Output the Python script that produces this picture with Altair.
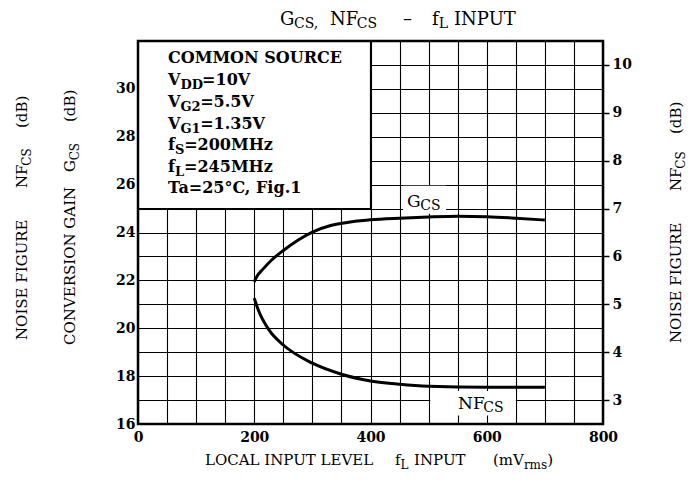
import altair as alt
import pandas as pd

# ---------------- data ----------------
gcs_x = [200, 205, 215, 230, 250, 275, 300, 330, 360, 400, 450, 500, 550, 600, 650, 700]
gcs_db = [21.94, 22.18, 22.47, 22.85, 23.25, 23.68, 24.02, 24.28, 24.42, 24.53, 24.60, 24.65,
          24.68, 24.66, 24.60, 24.52]
nf_x = [200, 207, 225, 250, 300, 350, 400, 450, 500, 600, 700]
nf_db = [5.13, 4.88, 4.47, 4.15, 3.77, 3.54, 3.40, 3.33, 3.29, 3.27, 3.27]

x_grid = list(range(0, 801, 50))
x_labels = [0, 200, 400, 600, 800]
g_grid = list(range(16, 33))
g_labels = [16, 18, 20, 22, 24, 26, 28, 30]
nf_ticks = [3, 4, 5, 6, 7, 8, 9, 10]

legend_lines = [
    [("COMMON SOURCE", 0)],
    [("V", 0), ("DD", 1), ("=10V", 0)],
    [("V", 0), ("G2", 1), ("=5.5V", 0)],
    [("V", 0), ("G1", 1), ("=1.35V", 0)],
    [("f", 0), ("S", 1), ("=200MHz", 0)],
    [("f", 0), ("L", 1), ("=245MHz", 0)],
    [("Ta=25°C, Fig.1", 0)],
]

# ---------------- layout ----------------
FONT = "DejaVu Serif"
W, H = 465, 383
OX, OY = 138, 41  # page position of plot origin

REG = {" ": .318, "A": .722, "B": .732, "C": .731, "D": .813, "E": .698, "F": .644, "G": .778,
       "H": .875, "I": .42, "L": .647, "M": 1.03, "N": .843, "O": .822, "P": .654, "R": .77,
       "S": .654, "T": .654, "U": .827, "V": .722, "a": .596, "d": .64, "f": .374, "g": .64,
       "i": .32, "m": .947, "r": .478, "s": .513, "z": .534, "(": .39, ")": .39, "=": .838,
       ",": .318, ".": .318, "°": .5, "–": .5}
BOLD = {" ": .348, "A": .776, "C": .734, "D": .834, "E": .757, "F": .705, "G": .823, "H": .949,
        "I": .469, "L": .707, "M": 1.096, "N": .938, "O": .82, "R": .822, "S": .716, "T": .707,
        "U": .879, "V": .776, "a": .676, "f": .43, "g": .70, "i": .38, "z": .58, "=": .838,
        ".": .38, ",": .38, "°": .5}


def tw(s, size, bold):
    t = BOLD if bold else REG
    out = 0
    for c in s:
        if c.isdigit():
            out += .696 if bold else .636
        else:
            out += t.get(c, .7)
    return out * size


one = pd.DataFrame({"k": [0]})


def run(x, y, parts, angle=0):
    """parts: (text, size, bold, shift) laid out one after another."""
    marks = []
    pos = 0.0
    for txt, size, bold, shift in parts:
        if angle == 0:
            px, py = x + pos, y + shift
        else:
            px, py = x + shift, y - pos
        marks.append(
            alt.Chart(one).mark_text(
                text=txt, font=FONT, fontSize=size,
                fontWeight="bold" if bold else "normal",
                align="left", baseline="alphabetic", angle=angle, color="black",
            ).encode(x=alt.value(px - OX), y=alt.value(py - OY))
        )
        pos += tw(txt, size, bold)
    return marks


texts = []
# chart title
texts += run(280, 25, [("G", 18, False, 0), ("CS,", 14, False, 3)])
texts += run(330, 25, [("NF", 18, False, 0), ("CS", 14, False, 3)])
texts += run(403, 25, [("–", 18, False, 0)])
texts += run(432, 25, [("f", 18, False, 0), ("L", 14, False, 3)])
texts += run(454, 25, [("INPUT", 18, False, 0)])
# x title
texts += run(205, 465, [("LOCAL INPUT LEVEL", 15, False, 0)])
texts += run(395, 465, [("f", 15, False, 0), ("L", 12, False, 4)])
texts += run(414, 465, [("INPUT", 15, False, 0)])
texts += run(493, 465, [("(mV", 15, False, 0), ("rms", 12, False, 4), (")", 15, False, 0)])
# left titles (rotated)
texts += run(27, 340, [("NOISE FIGURE", 15, False, 0)], angle=270)
texts += run(27, 188, [("NF", 15, False, 0), ("CS", 12, False, 4)], angle=270)
texts += run(27, 128, [("(dB)", 15, False, 0)], angle=270)
texts += run(75, 345, [("CONVERSION GAIN", 15, False, 0)], angle=270)
texts += run(75, 172, [("G", 15, False, 0), ("CS", 12, False, 4)], angle=270)
texts += run(75, 122, [("(dB)", 15, False, 0)], angle=270)
# right title
texts += run(681, 343, [("NOISE FIGURE", 15, False, 0)], angle=270)
texts += run(681, 191, [("NF", 15, False, 0), ("CS", 12, False, 4)], angle=270)
texts += run(681, 134, [("(dB)", 15, False, 0)], angle=270)
# condition box text
baselines = [63, 85, 107, 129, 150, 172, 193]
for line, b in zip(legend_lines, baselines):
    parts = [(t, 13 if sub else 16, True, 4 if sub else 0) for t, sub in line]
    texts += run(168, b, parts)
# curve labels
texts += run(407, 207, [("G", 17, False, 0), ("CS", 14, False, 3)])
texts += run(458, 409, [("NF", 17, False, 0), ("CS", 14, False, 3)])

# ---------------- chart ----------------
xscale = alt.Scale(domain=[0, 800], nice=False, zero=False)
gscale = alt.Scale(domain=[16, 32], nice=False, zero=False)
nfscale = alt.Scale(domain=[2.5, 10.5], nice=False, zero=False)

xaxis = alt.Axis(values=x_grid, labelExpr=f"indexof({x_labels}, datum.value) >= 0 ? datum.label : ''",
                 grid=True, gridColor="black", gridWidth=1.1, gridOpacity=1, ticks=False, domain=False,
                 labelPadding=6, labelFont=FONT, labelFontSize=14, labelFontWeight="bold",
                 labelColor="black", labelFlush=False, labelOverlap=False, title=None)
gaxis = alt.Axis(orient="left", values=g_grid,
                 labelExpr=f"indexof({g_labels}, datum.value) >= 0 ? datum.label : ''",
                 grid=True, gridColor="black", gridWidth=1.1, gridOpacity=1, ticks=False, domain=False,
                 labelPadding=3, labelFont=FONT, labelFontSize=14, labelFontWeight="bold",
                 labelColor="black", labelOverlap=False, labelFlush=False, title=None)
nfaxis = alt.Axis(orient="right", values=nf_ticks, grid=False, ticks=True, tickSize=6, tickWidth=1.5,
                  tickColor="black", domain=False, labelPadding=3, labelFont=FONT, labelFontSize=14,
                  labelFontWeight="bold", labelColor="black", labelOverlap=False, labelFlush=False,
                  title=None)

gdf = pd.DataFrame({"x": gcs_x, "g": gcs_db})
nfdf = pd.DataFrame({"x": nf_x, "nf": nf_db})
boxes = pd.DataFrame({
    "x0": [0, 456, 503], "x1": [400, 530, 650],
    "y0": [25, 24.78, 16.35], "y1": [32, 25.95, 17.38],
    "sw": [1.2, 0, 0],
})

box_layer = alt.Chart(boxes).mark_rect(fill="white", stroke="black").encode(
    x=alt.X("x0:Q", scale=xscale, axis=xaxis), x2="x1:Q",
    y=alt.Y("y0:Q", scale=gscale, axis=gaxis), y2="y1:Q",
    strokeWidth=alt.StrokeWidth("sw:Q", scale=None, legend=None),
)
g_line = alt.Chart(gdf).mark_line(color="black", strokeWidth=3, interpolate="monotone").encode(
    x=alt.X("x:Q", scale=xscale, axis=xaxis),
    y=alt.Y("g:Q", scale=gscale, axis=gaxis),
)
border = alt.Chart(one).mark_rect(fill="white", fillOpacity=0, stroke="black", strokeWidth=2.5).encode(
    x=alt.value(0), x2=alt.value(W), y=alt.value(0), y2=alt.value(H)
)
nf_line = alt.Chart(nfdf).mark_line(color="black", strokeWidth=3, interpolate="monotone").encode(
    x=alt.X("x:Q", scale=xscale, axis=xaxis),
    y=alt.Y("nf:Q", scale=nfscale, axis=nfaxis),
)

left = alt.layer(box_layer, g_line, border, *texts)
chart = alt.layer(left, nf_line).resolve_scale(y="independent").properties(
    width=W, height=H,
    autosize=alt.AutoSizeParams(type="none"),
    padding={"left": 130, "top": 33, "right": 85, "bottom": 50},
    background="white",
).configure_view(stroke=None)

chart.save("out.html", embed_options={"renderer": "svg", "actions": False})
